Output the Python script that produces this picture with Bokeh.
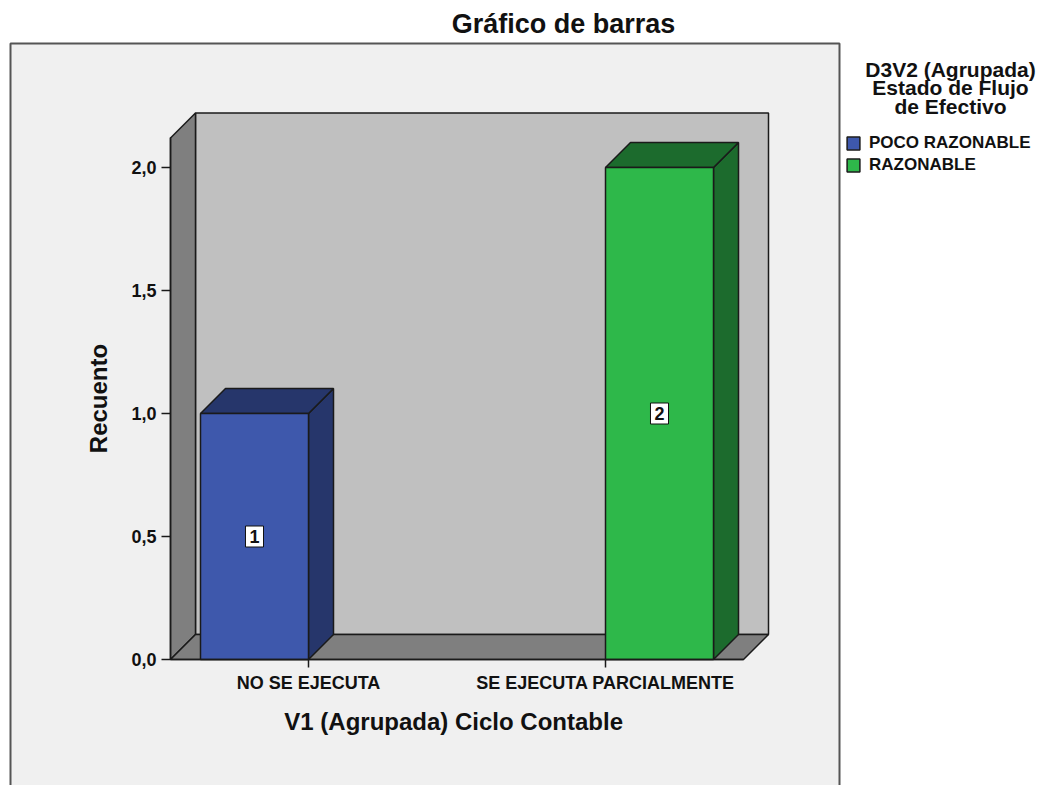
from bokeh.plotting import figure
from bokeh.models import (LinearAxis, FixedTicker, CustomJSTickFormatter,
                          Legend, LegendItem)
from bokeh.core.properties import value
from bokeh.embed import file_html
from bokeh.resources import INLINE

# ---------------- data ----------------
categories = ["NO SE EJECUTA", "SE EJECUTA PARCIALMENTE"]
series_names = ["POCO RAZONABLE", "RAZONABLE"]
poco_razonable = [1, 0]
razonable = [0, 2]
y_ticks = [0.0, 0.5, 1.0, 1.5, 2.0]
title_text = "Gráfico de barras"
x_title = "V1 (Agrupada)  Ciclo Contable"
y_title = "Recuento"
legend_title_lines = ["D3V2 (Agrupada)", "Estado de Flujo", "de Efectivo"]

# ---------------- styles ----------------
front_colors = ["#3e58ac", "#2eb84a"]
dark_colors = ["#26366b", "#1c6b2d"]
BACK_WALL = "#c0c0c0"
SIDE_WALL = "#7f7f7f"
BOX_BG = "#f0f0f0"
EDGE = "#1a1a1a"
TXT = "#111111"
FONT = "Liberation Sans"

# ---------------- layout (pixels) ----------------
FIG_W, FIG_H = 1037, 785
ORIGIN_X, ORIGIN_Y = 308, 659     # pixel of category 0 / count 0
PX_X, PX_Y = 297, 246             # pixels per category step / per count


def X(fx):
    return (fx - ORIGIN_X) / PX_X


def Y(fy):
    return (ORIGIN_Y - fy) / PX_Y


DX, DY = 25 / PX_X, 25 / PX_Y     # 3D depth offset
BAR_W = 108 / PX_X
PAD = 138 / PX_X
AXIS_TOP = 2.12
x0 = 0 - PAD
x1 = (len(categories) - 1) + PAD

p = figure(width=FIG_W, height=FIG_H, output_backend="svg", toolbar_location=None,
           x_axis_type=None, y_axis_type=None,
           x_range=(X(0), X(FIG_W)), y_range=(Y(FIG_H), Y(0)),
           min_border_left=0, min_border_right=0, min_border_bottom=0,
           min_border_top=0)
p.outline_line_color = None
p.background_fill_color = "white"
p.border_fill_color = "white"

# title
p.text(x=[X(563)], y=[Y(23)], text=[title_text], text_align="center",
       text_baseline="middle", text_font=value(FONT), text_font_style="bold",
       text_font_size="27px", text_color=TXT)

# grey chart box
p.quad(left=X(10), right=X(839), bottom=Y(830), top=Y(43),
       fill_color=BOX_BG, line_color="#555555", line_width=2)

# back wall
p.quad(left=x0 + DX, right=x1 + DX, bottom=DY, top=AXIS_TOP + DY,
       fill_color=BACK_WALL, line_color=EDGE, line_width=1.5)
# left wall and floor
p.patches(xs=[[x0, x0, x0 + DX, x0 + DX], [x0, x1, x1 + DX, x0 + DX]],
          ys=[[0, AXIS_TOP, AXIS_TOP + DY, DY], [0, 0, DY, DY]],
          fill_color=SIDE_WALL, line_color=EDGE, line_width=1.5)

# bars
series_values = [poco_razonable, razonable]
front_renderers = []
for s, vals in enumerate(series_values):
    lefts, rights, tops, cx, cy, labels = [], [], [], [], [], []
    side_xs, side_ys, top_xs, top_ys = [], [], [], []
    for i, v in enumerate(vals):
        if v <= 0:
            continue
        L = i - BAR_W if s == 0 else i
        R = L + BAR_W
        lefts.append(L); rights.append(R); tops.append(v)
        side_xs.append([R, R, R + DX, R + DX]); side_ys.append([0, v, v + DY, DY])
        top_xs.append([L, R, R + DX, L + DX]); top_ys.append([v, v, v + DY, v + DY])
        cx.append((L + R) / 2); cy.append(v / 2); labels.append(str(v))
    p.patches(xs=side_xs, ys=side_ys, fill_color=dark_colors[s], line_color=EDGE, line_width=1.5)
    p.patches(xs=top_xs, ys=top_ys, fill_color=dark_colors[s], line_color=EDGE, line_width=1.5)
    r = p.quad(left=lefts, right=rights, bottom=0, top=tops,
               fill_color=front_colors[s], line_color=EDGE, line_width=1.5)
    front_renderers.append(r)
    p.text(x=cx, y=cy, text=labels, text_align="center", text_baseline="middle",
           text_font=value(FONT), text_font_style="bold", text_font_size="18px",
           text_color=TXT, background_fill_color="white",
           border_line_color=TXT, border_line_width=1, padding=4)

# axes
yaxis = LinearAxis(fixed_location=x0, bounds=(0, AXIS_TOP),
                   ticker=FixedTicker(ticks=y_ticks, minor_ticks=[]),
                   formatter=CustomJSTickFormatter(code="return tick.toFixed(1).replace('.', ',')"),
                   axis_label=y_title)
xaxis = LinearAxis(fixed_location=0, bounds=(x0, x1),
                   ticker=FixedTicker(ticks=list(range(len(categories))), minor_ticks=[]),
                   major_label_overrides={i: c for i, c in enumerate(categories)},
                   axis_label=x_title)
for ax in (yaxis, xaxis):
    ax.axis_line_color = EDGE
    ax.axis_line_width = 1.5
    ax.major_tick_line_color = EDGE
    ax.major_tick_line_width = 1.5
    ax.major_tick_in = 0
    ax.minor_tick_line_color = None
    ax.major_label_text_font = FONT
    ax.major_label_text_font_style = "bold"
    ax.major_label_text_color = TXT
    ax.major_label_text_font_size = "18px"
    ax.axis_label_text_font = FONT
    ax.axis_label_text_font_style = "bold"
    ax.axis_label_text_color = TXT
    ax.axis_label_text_font_size = "24px"
yaxis.major_tick_out = 9
yaxis.major_label_standoff = 5
yaxis.axis_label_standoff = 16
xaxis.major_tick_out = 8
xaxis.major_label_standoff = 5
xaxis.axis_label_standoff = 12
p.add_layout(yaxis, "left")
p.add_layout(xaxis, "below")

# legend title (three centred lines)
p.text(x=[X(950)] * 3, y=[Y(68.5), Y(87), Y(105.5)], text=legend_title_lines,
       text_align="center", text_baseline="middle", text_font=value(FONT),
       text_font_style="bold", text_font_size="21px", text_color=TXT)

legend = Legend(items=[LegendItem(label=n, renderers=[r]) for n, r in zip(series_names, front_renderers)],
                location=(845, 610), orientation="vertical",
                glyph_width=16, glyph_height=16, label_height=20, spacing=2,
                label_standoff=8, padding=0, margin=0,
                background_fill_alpha=0, border_line_alpha=0,
                label_text_font=FONT, label_text_font_style="bold",
                label_text_font_size="17px", label_text_color=TXT)
p.add_layout(legend, "center")

open("out.html", "w").write(file_html(p, INLINE))
